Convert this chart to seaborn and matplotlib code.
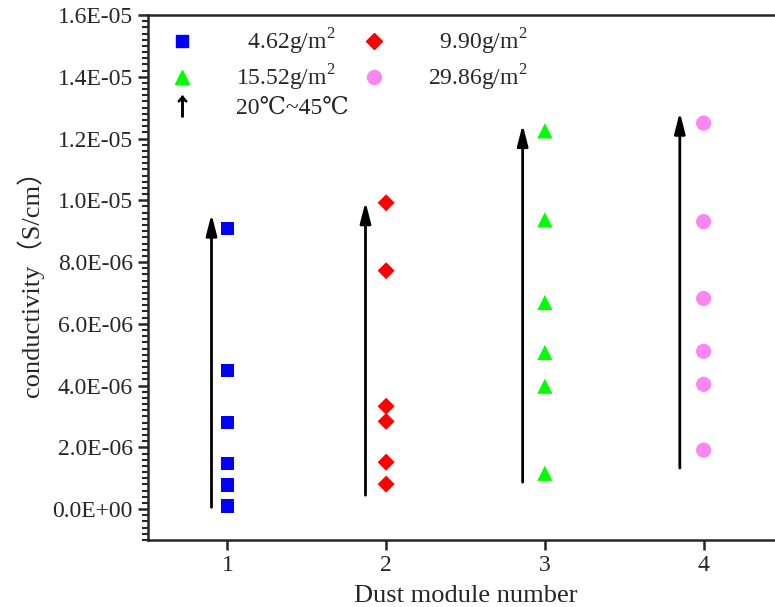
import matplotlib
matplotlib.use('Agg')
import numpy as np
import pandas as pd
import matplotlib.pyplot as plt
from matplotlib.lines import Line2D
from matplotlib.ticker import MultipleLocator, FuncFormatter
import seaborn as sns

# dust loadings (legend labels) and module numbers
loadings = ['4.62g/m$^2$', '9.90g/m$^2$', '15.52g/m$^2$', '29.86g/m$^2$']
modules = [1, 2, 3, 4]

# conductivity (S/cm) at each temperature step, one list per module
cond_m1 = [9.10e-6, 4.49e-6, 2.81e-6, 1.49e-6, 0.78e-6, 0.10e-6]
cond_m2 = [9.92e-6, 7.72e-6, 3.33e-6, 2.84e-6, 1.52e-6, 0.81e-6]
cond_m3 = [12.25e-6, 9.37e-6, 6.69e-6, 5.07e-6, 3.98e-6, 1.16e-6]
cond_m4 = [12.50e-6, 9.31e-6, 6.82e-6, 5.11e-6, 4.04e-6, 1.91e-6]

# temperature arrows (20C -> 45C)
arrow_x = [0.90, 1.87, 2.86, 3.85]
arrow_start = [0.06e-6, 0.45e-6, 0.87e-6, 1.33e-6]
arrow_end = [9.55e-6, 9.95e-6, 12.45e-6, 12.85e-6]

colors = ['#0000FF', '#FF0000', '#00FF00', '#FF85F0']
marks = ['s', 'D', '^', 'o']
sizes = [90, 75, 120, 120]

rows = []
for m, lab, vals in zip(modules, loadings, [cond_m1, cond_m2, cond_m3, cond_m4]):
    for v in vals:
        rows.append({'module': m, 'loading': lab, 'cond': v})
df = pd.DataFrame(rows)

sns.set_style('ticks')
plt.rcParams['font.family'] = ['Liberation Serif', 'DejaVu Serif', 'Noto Sans CJK SC']
plt.rcParams['mathtext.fontset'] = 'custom'
plt.rcParams['mathtext.rm'] = 'Liberation Serif'

fig = plt.figure(figsize=(7.75, 6.07), dpi=100)
ax = fig.add_axes([148 / 775, 67 / 607, 635 / 775, 525 / 607])

for lab, c, mk, s in zip(loadings, colors, marks, sizes):
    sns.scatterplot(data=df[df['loading'] == lab], x='module', y='cond', color=c,
                    marker=mk, s=s, edgecolor='none', legend=False, ax=ax, zorder=3)

for x, y0, y1 in zip(arrow_x, arrow_start, arrow_end):
    ax.annotate('', xy=(x, y1), xytext=(x, y0),
                arrowprops=dict(arrowstyle='-|>,head_length=0.7,head_width=0.18',
                                lw=2, color='black', shrinkA=0, shrinkB=0,
                                mutation_scale=18))

ax.set_xlim(0.5, 4.5)
ax.set_ylim(-1e-6, 1.6e-5)
ax.set_xticks(modules)
ax.yaxis.set_major_locator(MultipleLocator(2e-6))
ax.yaxis.set_minor_locator(MultipleLocator(2e-7))
ax.yaxis.set_major_formatter(FuncFormatter(lambda v, p: f'{v:.1E}'))
ax.tick_params(axis='both', which='major', direction='out', length=7, width=1.8,
               labelsize=17, pad=4)
ax.tick_params(axis='y', which='minor', direction='out', length=4, width=1.5)
for sp in ax.spines.values():
    sp.set_linewidth(1.8)

ax.set_xlabel('Dust module number', fontsize=19, labelpad=6)
ax.set_ylabel('conductivity（S/cm）', fontsize=19, labelpad=6)

handles = [
    Line2D([], [], ls='none', marker='s', color=colors[0], markersize=8),
    Line2D([], [], ls='none', marker='^', color=colors[2], markersize=10),
    Line2D([], [], ls='none', marker=r'$\uparrow$', color='black', markersize=15),
    Line2D([], [], ls='none', marker='D', color=colors[1], markersize=8),
    Line2D([], [], ls='none', marker='o', color=colors[3], markersize=10),
]
labels = ['  ' + loadings[0], loadings[2], '20℃~45℃', '  ' + loadings[1], loadings[3]]
ax.legend(handles, labels, ncol=2, loc='upper left', frameon=False, fontsize=17,
          handletextpad=1.3, columnspacing=0.05, labelspacing=0.22,
          bbox_to_anchor=(-0.017, 1.018))

fig.savefig('out.png', dpi=100)
